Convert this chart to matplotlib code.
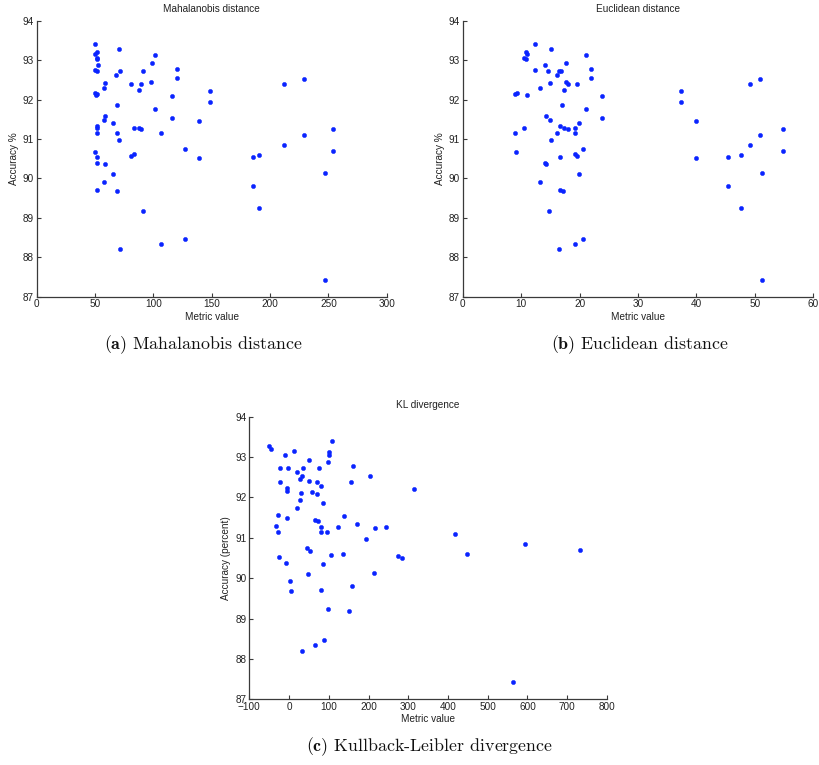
import matplotlib
matplotlib.use("Agg")
import matplotlib.pyplot as plt

# Classification accuracy (%) of each run, shared by all three panels
accuracy = [
    93.40, 93.27, 93.21, 93.16, 93.13, 93.06, 93.04, 92.92, 92.88, 92.78,
    92.74, 92.73, 92.72, 92.72, 92.63, 92.54, 92.53, 92.45, 92.41, 92.39,
    92.39, 92.39, 92.28, 92.24, 92.21, 92.16, 92.14, 92.12, 92.08, 91.94,
    91.85, 91.75, 91.57, 91.53, 91.49, 91.45, 91.41, 91.33, 91.29, 91.27,
    91.27, 91.26, 91.24, 91.14, 91.14, 91.14, 91.10, 90.98, 90.84, 90.75,
    90.69, 90.67, 90.61, 90.59, 90.57, 90.55, 90.53, 90.51, 90.38, 90.36,
    90.14, 90.10, 89.92, 89.81, 89.71, 89.67, 89.24, 89.18, 88.46, 88.34,
    88.20, 87.42,
]

# Mahalanobis distance metric for each run
mahalanobis = [
    50.0, 70.6, 51.4, 50.0, 101.7, 51.4, 51.7, 98.6, 52.3, 120.3,
    50.0, 52.0, 71.1, 90.9, 68.3, 120.6, 228.9, 98.3, 58.3, 81.1,
    89.4, 212.3, 57.4, 88.0, 148.9, 49.7, 51.4, 50.6, 116.3, 148.8,
    68.6, 101.7, 58.8, 116.2, 58.0, 139.1, 65.7, 51.4, 83.1, 51.4,
    88.0, 253.7, 89.4, 51.4, 68.6, 106.5, 228.9, 70.5, 212.3, 127.4,
    253.7, 50.0, 83.4, 190.9, 81.1, 185.4, 51.4, 139.1, 52.0, 58.8,
    247.4, 65.7, 57.4, 185.4, 52.0, 68.6, 190.9, 91.4, 127.4, 106.9,
    71.1, 247.4,
]

# Euclidean distance metric for each run
euclidean = [
    12.36, 15.04, 10.83, 11.00, 21.08, 10.43, 10.83, 17.72, 14.13, 21.88,
    12.36, 16.80, 14.64, 16.50, 16.07, 21.88, 50.86, 17.72, 14.87, 18.00,
    19.54, 49.20, 13.22, 17.32, 37.31, 9.23, 8.95, 11.00, 23.82, 37.31,
    17.04, 21.08, 14.30, 23.82, 14.87, 39.94, 19.94, 16.70, 19.26, 10.43,
    17.38, 54.86, 18.06, 8.95, 16.13, 19.26, 50.86, 15.04, 49.20, 20.63,
    54.86, 9.17, 19.26, 47.54, 19.54, 45.37, 16.70, 39.94, 14.13, 14.30,
    51.14, 19.94, 13.22, 45.37, 16.70, 17.09, 47.54, 14.70, 20.63, 19.26,
    16.52, 51.14,
]

# KL divergence metric for each run
kl_divergence = [
    107.3, -50.4, -45.4, 12.5, 101.4, -10.2, 99.7, 51.0, 97.2, 160.9,
    -22.7, 35.1, 76.2, -1.8, 20.9, 202.9, 32.6, 28.4, 49.4, 69.5,
    155.0, -22.7, 80.4, -5.9, 314.4, -5.9, 57.8, 29.3, 69.5, 26.8,
    86.3, 19.9, -26.9, 138.3, -4.3, 66.2, 72.9, 171.8, -32.8, 80.4,
    124.0, 244.0, 215.5, -26.9, 80.4, 94.7, 418.4, 194.5, 593.7, 45.3,
    731.2, 53.7, 136.6, 447.0, 105.7, 273.3, -25.2, 285.1, -8.4, 84.6,
    213.0, 46.9, 3.3, 159.3, 80.4, 5.8, 97.2, 150.9, 87.2, 66.2,
    32.6, 562.7,
]

y_ticks = [87, 88, 89, 90, 91, 92, 93, 94]
mahal_ticks = [0, 50, 100, 150, 200, 250, 300]
eucl_ticks = [0, 10, 20, 30, 40, 50, 60]
kl_ticks = [-100, 0, 100, 200, 300, 400, 500, 600, 700, 800]

plt.rcParams["font.family"] = ["Liberation Sans", "DejaVu Sans"]
plt.rcParams["mathtext.fontset"] = "cm"
plt.rcParams["axes.unicode_minus"] = True

AXIS_COLOR = "#3a3a3a"
DOT_COLOR = "#0a24ff"
FS = 7.2

fig = plt.figure(figsize=(8.2, 7.65), dpi=100)


def style_axes(ax, x, y, xticks, xlim, title, ylabel):
    ax.plot(x, y, linestyle="none", marker="o", markersize=3.1,
            markerfacecolor=DOT_COLOR, markeredgecolor=DOT_COLOR,
            markeredgewidth=0.3)
    ax.set_xlim(*xlim)
    ax.set_ylim(87, 94)
    ax.set_xticks(xticks)
    ax.set_yticks(y_ticks)
    for side in ("top", "right"):
        ax.spines[side].set_visible(False)
    for side in ("left", "bottom"):
        ax.spines[side].set_color(AXIS_COLOR)
        ax.spines[side].set_linewidth(0.9)
    ax.tick_params(direction="in", length=3, width=0.8, color=AXIS_COLOR,
                   labelsize=FS, labelcolor="#222222")
    ax.tick_params(axis="x", pad=2)
    ax.tick_params(axis="y", pad=2)
    ax.set_title(title, fontsize=FS, color="#222222", pad=6)
    ax.set_xlabel("Metric value", fontsize=FS, color="#222222", labelpad=1.5)
    ax.set_ylabel(ylabel, fontsize=FS, color="#222222", labelpad=3)


ax_a = fig.add_axes([0.0448, 0.6122, 0.4268, 0.3608])
style_axes(ax_a, mahalanobis, accuracy, mahal_ticks, (0, 300),
           "Mahalanobis distance", "Accuracy %")

ax_b = fig.add_axes([0.5643, 0.6122, 0.4276, 0.3608])
style_axes(ax_b, euclidean, accuracy, eucl_ticks, (0, 60),
           "Euclidean distance", "Accuracy %")

ax_c = fig.add_axes([0.3040, 0.0859, 0.4362, 0.3694])
style_axes(ax_c, kl_divergence, accuracy, kl_ticks, (-100, 800),
           "KL divergence", "Accuracy (percent)")

# Sub-figure captions
cap_kw = dict(family="cmr10", fontsize=12.9, ha="center", va="center",
              color="#111111")
fig.text(203 / 820, 1 - 345 / 765, r"$\mathbf{(a)}$ Mahalanobis distance", **cap_kw)
fig.text(640 / 820, 1 - 345 / 765, r"$\mathbf{(b)}$ Euclidean distance", **cap_kw)
fig.text(430 / 820, 1 - 747 / 765, r"$\mathbf{(c)}$ Kullback-Leibler divergence", **cap_kw)

fig.savefig("out.png", dpi=100, facecolor="white")
